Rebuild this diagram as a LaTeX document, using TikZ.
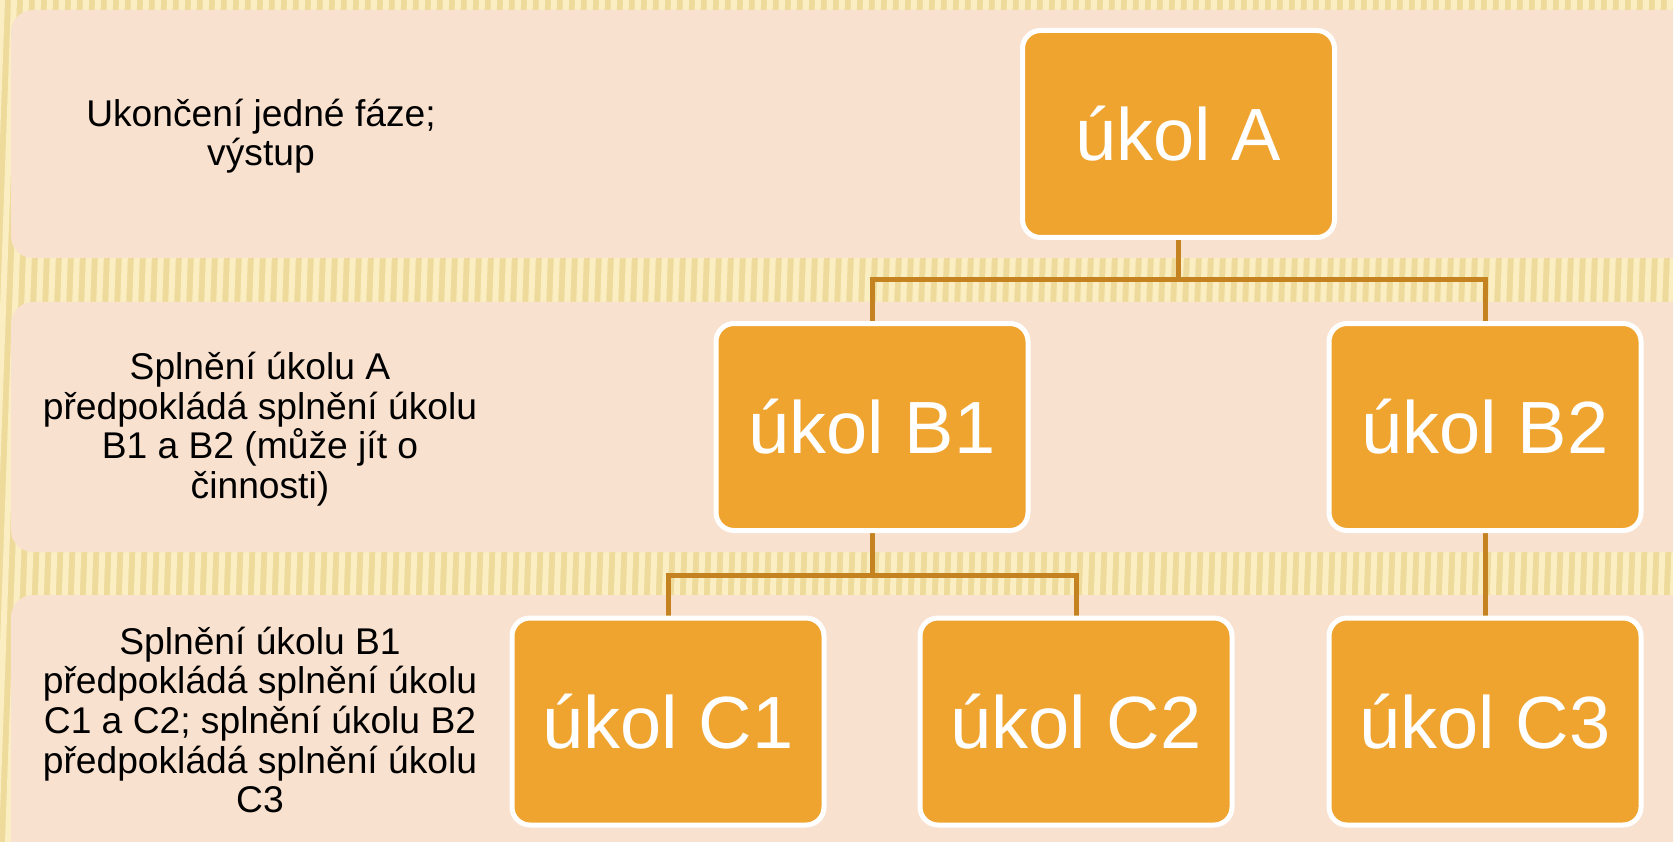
\documentclass[tikz,border=0pt]{standalone}
\usepackage{fontspec}
\setmainfont{Liberation Sans}
\usetikzlibrary{backgrounds}
\definecolor{bgbase}{RGB}{238,218,154}
\definecolor{bgstripe}{RGB}{250,238,194}
\definecolor{band}{RGB}{249,225,207}
\definecolor{task}{RGB}{239,164,48}
\definecolor{conn}{RGB}{196,130,32}
\tikzset{
  bandbox/.style={fill=band, rounded corners=22pt},
  taskbox/.style={draw=white, line width=5pt, fill=task, rounded corners=18pt,
    minimum width=312pt, minimum height=207pt, inner sep=0pt, text=white,
    font=\fontsize{74}{80}\selectfont},
  levellabel/.style={align=center, text=black, font=\fontsize{37.2}{39.6}\selectfont, inner sep=0pt},
  connline/.style={draw=conn, line width=5pt},
  stripeline/.style={draw=bgstripe, line width=6pt}
}
\begin{document}
\begin{tikzpicture}[x=1pt,y=-1pt]
\useasboundingbox (0,0) rectangle (1673,842);
\clip (0,0) rectangle (1673,842);
% boxes
\node[taskbox] (A)  at (1178.5,134) {úkol A};
\node[taskbox] (B1) at (872,427) {úkol B1};
\node[taskbox] (B2) at (1485,427) {úkol B2};
\node[taskbox] (C1) at (668,721.5) {úkol C1};
\node[taskbox] (C2) at (1076,721.5) {úkol C2};
\node[taskbox] (C3) at (1485,721.5) {úkol C3};
% labels
\node[levellabel] (L1) at (261,136) {Ukončení jedné fáze;\\výstup};
\node[levellabel] (L2) at (260,429) {Splnění úkolu A\\předpokládá splnění úkolu\\B1 a B2 (může jít o\\činnosti)};
\node[levellabel] (L3) at (260,720) {Splnění úkolu B1\\předpokládá splnění úkolu\\C1 a C2; splnění úkolu B2\\předpokládá splnění úkolu\\C3};
\begin{scope}[on background layer]
  \fill[bgbase] (0,0) rectangle (1673,842);
  \foreach \x in {-100,-88,...,1720} \draw[stripeline] (\x,842) -- (\x+30,0);
  \fill[bandbox] (11,10) rectangle (1700,258);
  \fill[bandbox] (11,302) rectangle (1700,552);
  \fill[bandbox] (11,595) rectangle (1700,880);
  \coordinate (jAB) at (1178.5,280);
  \coordinate (jBC) at (872,575);
  \draw[connline] (A.south) -- (jAB);
  \draw[connline] (B1.north) |- (jAB) -| (B2.north);
  \draw[connline] (B1.south) -- (jBC);
  \draw[connline] (C1.north) |- (jBC) -| (C2.north);
  \draw[connline] (B2.south) -- (C3.north);
\end{scope}
\end{tikzpicture}
\end{document}
